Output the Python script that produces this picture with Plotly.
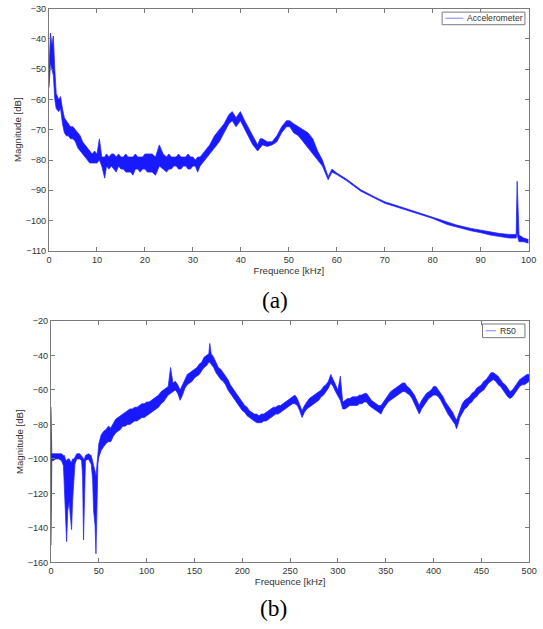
import plotly.graph_objects as go

# ---------------- (a) Accelerometer spectrum: 0-100 kHz ----------------
freq_a = [0, 0.3, 0.6, 0.9, 1.2, 1.5, 2.0, 2.4, 2.8, 3.2, 3.6, 4.0, 4.5, 5.0, 5.5, 6.0, 6.5, 7.0,
          7.5, 8.0, 8.5, 9.0, 9.5, 10.0, 10.5, 11.0, 11.6, 12.0, 12.5, 13.0, 13.5, 14.0, 14.5,
          15.0, 15.5, 16.0, 16.5, 17.0, 17.5, 18.0, 18.5, 19.0, 19.5, 20.0, 20.5, 21.0, 21.5,
          22.2, 23.0, 23.8, 24.5, 25.0, 25.5, 26.0, 26.5, 27.0, 27.5, 28.0, 28.5, 29.0, 29.5,
          30.0, 30.5, 31.0, 31.5, 32.5, 33.5, 34.5, 35.5, 36.5, 37.5, 38.2, 39.0, 39.9, 40.8,
          41.5, 42.5, 43.5, 44.0, 44.5, 45.5, 46.5, 47.5, 48.5, 49.5, 50.2, 51.0, 52.0, 53.0,
          54.0, 55.0, 56.0, 57.0, 58.2, 59.0, 60.0, 62.0, 65.0, 68.0, 70.0, 72.0, 75.0, 78.0,
          80.0, 83.0, 85.0, 88.0, 90.0, 92.0, 94.0, 96.0, 97.4, 97.6, 97.8, 98.0, 99.0, 100.0]
upper_a = [-50, -38, -42, -39, -50, -58, -60, -59, -63, -66, -67, -68, -69, -69, -70, -71, -72, -74,
           -75, -76, -77, -78, -77, -78, -73, -79, -79, -78, -79, -78, -78, -79, -78,
           -79, -79, -78, -79, -79, -79, -78, -79, -79, -79, -78, -78, -78, -78,
           -79, -75, -78, -79, -78, -79, -79, -79, -78, -79, -79, -79, -78, -79,
           -79, -80, -79, -79, -77, -75, -72, -70, -68, -65, -64, -66, -64, -67,
           -69, -72, -75, -73, -73, -74, -74, -72, -69, -67, -67, -68, -69, -70,
           -71, -73, -77, -80, -85.5, -83, -84.3, -86.3, -89.8, -92.3, -93.8, -94.8, -96.3, -97.8,
           -98.8, -100.5, -101.5, -102.6, -103.2, -103.8, -104.3, -104.6, -104.6, -87, -100, -104.8, -105.8, -106.3]
lower_a = [-56, -48, -50, -52, -60, -63, -64, -63, -68, -71, -72, -72, -73, -73, -74, -76, -77, -78,
           -79, -80, -81, -81, -81, -81, -80, -82, -86, -82, -83, -82, -83, -84, -82,
           -83, -83, -84, -84, -84, -85, -83, -83, -84, -83, -83, -84, -84, -84,
           -85, -82, -83, -84, -83, -83, -82, -82, -83, -83, -82, -82, -83, -83,
           -82, -82, -84, -82, -80, -78, -76, -74, -71, -68, -67, -69, -67, -70,
           -72, -75, -77, -76, -75, -75.5, -75, -74, -71, -69, -69, -71, -72, -74,
           -76, -78, -80, -82, -86.5, -84, -84.8, -86.8, -90.3, -92.8, -94.3, -95.3, -96.8, -98.3,
           -99.3, -101.3, -102.2, -103.4, -104, -104.8, -105.3, -105.8, -105.8, -104, -106, -107, -107, -107.5]

# ---------------- (b) R50 spectrum: 0-500 kHz ----------------
freq_b = [0, 0.8, 2, 5, 8, 11, 13, 14, 15, 16.3, 17.5, 19, 20, 21.5, 22.5, 24, 25, 27, 30, 32,
          33, 34, 35, 36, 39, 42, 43.5, 44.5, 46, 47, 48, 49,
          50, 52.5, 55, 57.5, 60, 62.5, 65, 67.5, 70, 72.5, 75, 77.5, 80, 82.5, 85, 87.5, 90, 92.5,
          95, 97.5, 100, 102.5, 105, 107.5, 110, 112.5, 115, 117.5, 120, 122.5, 125, 127.5, 130,
          132.5, 135, 137.5, 140, 142.5, 145, 147.5, 150, 152.5, 155, 157.5, 160, 162.5, 165, 166,
          167.5, 170, 172.5, 175, 177.5, 180, 182.5, 185, 187.5, 190, 192.5, 195, 197.5, 200,
          202.5, 205, 207.5, 210, 212.5, 215, 217.5, 220, 222.5, 225, 227.5, 230, 232.5, 235,
          237.5, 240, 242.5, 245, 247.5, 250, 252.5, 255, 257.5, 260, 262.5, 265, 267.5, 270,
          272.5, 275, 277.5, 280, 282.5, 285, 287.5, 290, 292.5, 295, 297.5, 300, 302.5, 305,
          307.5, 310, 312.5, 315, 317.5, 320, 322.5, 325, 327.5, 330, 332.5, 335, 337.5, 340,
          342.5, 345, 347.5, 350, 352.5, 355, 357.5, 360, 362.5, 365, 367.5, 370, 372.5, 375,
          377.5, 380, 382.5, 385, 387.5, 390, 392.5, 395, 397.5, 400, 402.5, 405, 407.5, 410,
          412.5, 415, 417.5, 420, 422.5, 424, 425, 427.5, 430, 432.5, 435, 437.5, 440, 442.5,
          445, 447.5, 450, 452.5, 455, 457.5, 460, 462.5, 465, 467.5, 470, 472.5, 475, 477.5,
          480, 482.5, 485, 487.5, 490, 492.5, 495, 497.5, 500]
upper_b = [-70, -97, -97, -97, -97, -97, -98, -98, -100, -101, -100, -100, -101, -102, -100, -100, -99, -97, -97, -98,
           -99, -100, -100, -98, -97, -98, -101, -104, -107, -110, -104, -95,
           -91, -86, -84, -83, -81, -82, -79, -77, -76, -75, -74, -73, -72, -71, -71, -70, -70, -69,
           -68, -68, -67, -67, -66, -65, -64, -63, -61, -60, -59, -58, -47, -56, -55,
           -57, -60, -57, -53, -51, -50, -49, -48, -47, -45, -44, -41, -40, -39, -33,
           -39, -41, -44, -47, -48, -50, -52, -54, -57, -59, -61, -63, -65, -67,
           -69, -70, -72, -73, -74, -74, -75, -74, -74, -73, -72, -71, -70, -70,
           -69, -69, -68, -67, -66, -65, -64, -63, -65, -68, -72, -69, -67, -65,
           -64, -63, -62, -61, -60, -58, -57, -55, -51, -54, -57, -60, -52, -67,
           -66, -65, -65, -64, -64, -64, -63, -63, -62, -62, -64, -66, -67, -68,
           -69, -69, -67, -65, -63, -61, -60, -59, -58, -57, -56, -56, -58, -59,
           -61, -63, -66, -69, -66, -64, -62, -61, -60, -58, -58, -60, -62, -64,
           -67, -69, -71, -73, -76, -77.5, -76, -72, -68, -66, -65, -64, -62, -61,
           -59, -58, -57, -55, -54, -52, -50, -50, -51, -52, -54, -56, -57, -59,
           -61, -60, -58, -56, -54, -53, -52, -51, -51]
lower_b = [-150, -101, -101, -100, -100, -101, -104, -120, -128, -148, -130, -125, -132, -141, -125, -110, -103, -100, -100, -101,
           -110, -147, -112, -101, -100, -103, -112, -130, -138, -155, -130, -103,
           -99, -95, -93, -91, -90, -90, -87, -85, -84, -83, -81, -81, -80, -80, -79, -78, -78, -77,
           -76, -76, -75, -74, -73, -72, -71, -70, -68, -67, -65, -63, -62, -61, -60,
           -62, -66, -63, -59, -57, -56, -55, -53, -52, -51, -49, -47, -46, -44, -44,
           -45, -47, -50, -52, -54, -55, -57, -60, -62, -64, -66, -68, -70, -72,
           -73, -75, -76, -77, -78, -79, -79, -79, -78, -78, -77, -76, -75, -74,
           -74, -73, -72, -71, -70, -69, -68, -68, -69, -72, -76, -73, -71, -70,
           -69, -68, -67, -66, -64, -63, -61, -59, -56, -58, -61, -64, -66, -71,
           -71, -70, -69, -69, -69, -69, -68, -68, -67, -67, -69, -70, -71, -72,
           -73, -74, -71, -69, -67, -66, -65, -64, -63, -62, -61, -61, -62, -63,
           -65, -68, -71, -74, -71, -69, -67, -65, -64, -63, -63, -64, -66, -69,
           -71, -74, -76, -78, -80, -82.5, -81, -76, -73, -71, -70, -68, -67, -65,
           -64, -62, -61, -60, -58, -56, -55, -54, -55, -57, -58, -60, -62, -64,
           -65, -64, -62, -60, -58, -57, -57, -56, -55]

# axis ticks / labels
xticks_a = list(range(0, 101, 10))
yticks_a = list(range(-110, -29, 10))
xticks_b = list(range(0, 501, 50))
yticks_b = list(range(-160, -19, 20))
series_names = ["Accelerometer", "R50"]
captions = ["(a)", "(b)"]

BLUE = "rgb(25,25,255)"
EDGE = "rgba(40,40,255,0.75)"
LEGBLUE = "rgb(130,130,255)"
AXC = "#7a7a7a"

# Page geometry: body margin removed; the photographed page is fitted into the
# 543x629 picture at a scale of about 543/551, so map target picture pixels accordingly.
S = 543 / 551
W, H = 543, 629
DY = (629 - 629 * S) / 2


def px(x):
    return (x / S) / W


def py(y):
    return 1 - ((y - DY) / S) / H


def fs(size):
    return round(size / S, 2)


fig = go.Figure()
# (a)
fig.add_trace(go.Scatter(x=freq_a, y=lower_a, mode="lines", line=dict(color=EDGE, width=1),
                         name=series_names[0], showlegend=False, xaxis="x", yaxis="y"))
fig.add_trace(go.Scatter(x=freq_a, y=upper_a, mode="lines", line=dict(color=EDGE, width=1),
                         fill="tonexty", fillcolor=BLUE, showlegend=False, xaxis="x", yaxis="y"))
# (b)
fig.add_trace(go.Scatter(x=freq_b, y=lower_b, mode="lines", line=dict(color=EDGE, width=1),
                         name=series_names[1], showlegend=False, xaxis="x2", yaxis="y2"))
fig.add_trace(go.Scatter(x=freq_b, y=upper_b, mode="lines", line=dict(color=EDGE, width=1),
                         fill="tonexty", fillcolor=BLUE, showlegend=False, xaxis="x2", yaxis="y2"))

FONT = "Liberation Sans, Arial"
tickfont = dict(family=FONT, size=fs(9), color="#333")
titlefont = dict(family=FONT, size=fs(9.5), color="#333")


def xax(dom, anchor, ticks, rng):
    return dict(domain=dom, anchor=anchor, range=rng, tickvals=ticks, ticks="inside", ticklen=4,
                tickcolor=AXC, showline=True, linecolor=AXC, linewidth=1, mirror="ticks",
                showgrid=False, zeroline=False, tickfont=tickfont, ticklabeloverflow="allow",
                title=dict(text="Frequence [kHz]", font=titlefont, standoff=0))


def yax(dom, anchor, ticks, rng):
    return dict(domain=dom, anchor=anchor, range=rng, tickvals=ticks, ticks="inside", ticklen=4,
                tickcolor=AXC, showline=True, linecolor=AXC, linewidth=1, mirror="ticks",
                showgrid=False, zeroline=False, tickfont=tickfont, ticklabeloverflow="allow",
                title=dict(text="Magnitude [dB]", font=titlefont, standoff=2))


# MATLAB-style legend boxes (target picture pixel positions)
legend_boxes = [
    dict(box=(441.7, 11.7, 525, 24.3), line=(445, 463), ytxt=17.8, xtxt=464.5, name=series_names[0]),
    dict(box=(482.3, 324, 525, 337.7), line=(485.5, 496), ytxt=330.8, xtxt=497.5, name=series_names[1]),
]
shapes = []
annotations = []
for lb in legend_boxes:
    x0, y0, x1, y1 = lb["box"]
    shapes.append(dict(type="rect", xref="paper", yref="paper", x0=px(x0), x1=px(x1),
                       y0=py(y1), y1=py(y0), line=dict(color=AXC, width=1), fillcolor="white"))
    shapes.append(dict(type="line", xref="paper", yref="paper", x0=px(lb["line"][0]),
                       x1=px(lb["line"][1]), y0=py(lb["ytxt"]), y1=py(lb["ytxt"]),
                       line=dict(color=LEGBLUE, width=1)))
    annotations.append(dict(text=lb["name"], x=px(lb["xtxt"]), y=py(lb["ytxt"]), xref="paper",
                            yref="paper", xanchor="left", yanchor="middle", showarrow=False,
                            font=dict(family=FONT, size=fs(8.5), color="#333")))

annotations.append(dict(text=captions[0], x=px(274), y=py(300), xref="paper", yref="paper",
                        showarrow=False, yanchor="middle",
                        font=dict(family="Liberation Serif, Times New Roman", size=fs(23), color="black")))
annotations.append(dict(text=captions[1], x=px(272), y=py(608), xref="paper", yref="paper",
                        showarrow=False, yanchor="middle",
                        font=dict(family="Liberation Serif, Times New Roman", size=fs(23), color="black")))

fig.update_layout(
    width=W, height=H, margin=dict(l=0, r=0, t=0, b=0),
    paper_bgcolor="white", plot_bgcolor="white", showlegend=False,
    xaxis=xax([px(46.3), px(528.7)], "y", xticks_a, [0, 100]),
    yaxis=yax([py(250.7), py(8.3)], "x", yticks_a, [-110, -30]),
    xaxis2=xax([px(48.3), px(529.3)], "y2", xticks_b, [0, 500]),
    yaxis2=yax([py(562.7), py(321)], "x2", yticks_b, [-160, -20]),
    shapes=shapes,
    annotations=annotations,
)

fig.write_html("out.html", config={"displayModeBar": False},
               post_script="document.body.style.margin='0';document.body.style.overflow='hidden';")
